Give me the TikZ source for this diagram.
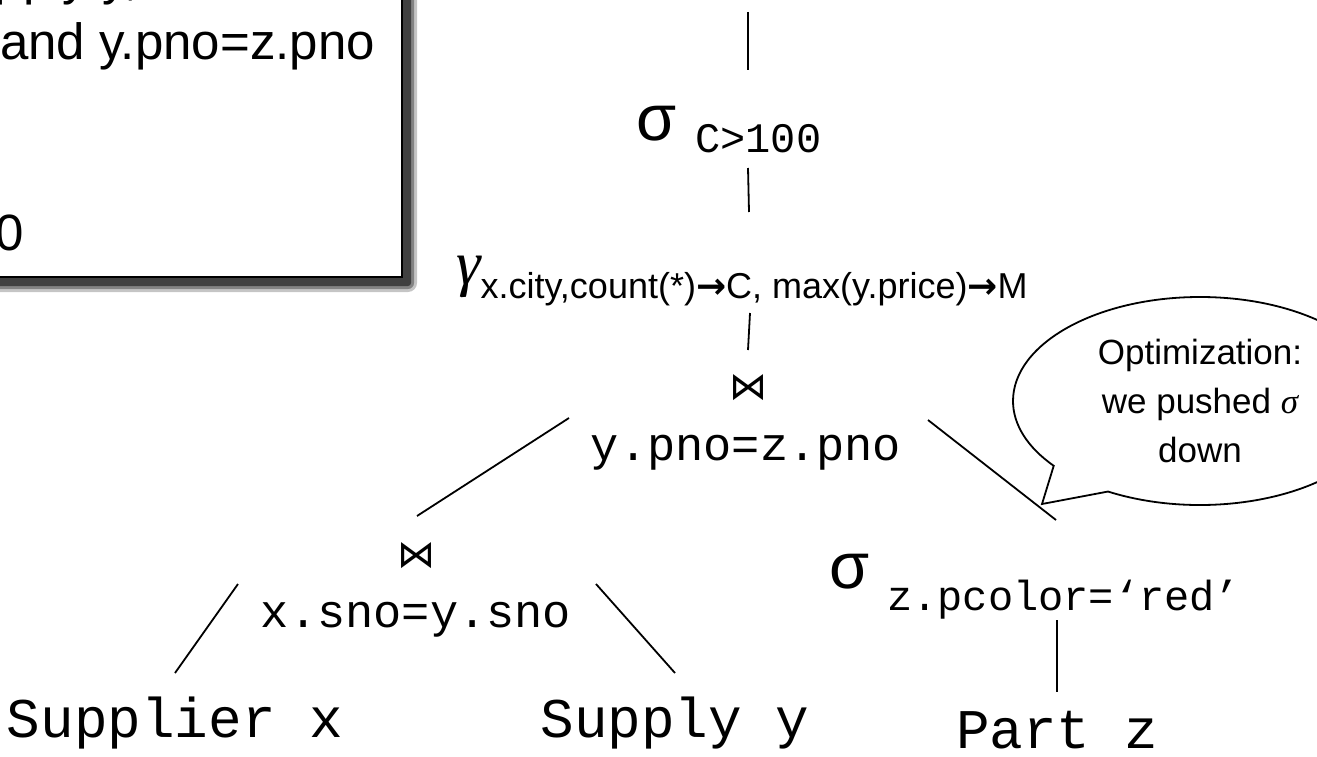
\documentclass[tikz,border=0pt]{standalone}
\usepackage{fontspec}
\setmainfont{Liberation Sans}
\newfontfamily\codefont{Liberation Mono}
\newfontfamily\greekit{Liberation Serif}
\newfontfamily\symfont{DejaVu Sans}
\usetikzlibrary{shapes.callouts}

\tikzset{
  edge/.style={line width=1.8pt},
  leaf/.style={font=\codefont\fontsize{56}{60}\selectfont, anchor=base, inner sep=0pt},
  cond/.style={font=\codefont\fontsize{47}{50}\selectfont, anchor=base, inner sep=0pt},
  bowtie/.style={font=\symfont\fontsize{38}{38}\selectfont, inner sep=0pt},
  sqltext/.style={font=\fontsize{51}{58}\selectfont, anchor=base east, inner sep=0pt},
  optext/.style={anchor=base west, inner sep=0pt},
}

\begin{document}
\begin{tikzpicture}[x=1pt,y=-1pt]
\useasboundingbox (0,0) rectangle (1317,757);
\clip (0,0) rectangle (1317,757);
% query box with its shadow
\foreach \b/\o in {9/0.3,6/0.5,3/1}{\fill[black!75,opacity=\o,rounded corners=\b pt] (-60,-60) rectangle (408+\b,283+\b);}
\draw[line width=2.4pt,fill=white] (-60,-60) rectangle (402,277);
\node[sqltext] (from) at (286,-5) {pply y, Part z};
\node[sqltext] (where) at (375,60) {and y.pno=z.pno};
\node[sqltext] (having) at (24,250) {0};
% operators
\node[optext] (selC) at (636,140) {{\fontsize{65}{65}\selectfont σ}\hspace{19pt}\raisebox{-13pt}{\codefont\fontsize{42}{42}\selectfont C>100}};
\node[optext] (grp) at (456,284) {{\greekit\itshape\fontsize{62}{62}\selectfont γ}\raisebox{-14pt}{\fontsize{36}{36}\selectfont x.city,count(*){\symfont\bfseries→}C, max(y.price){\symfont\bfseries→}M}};
\node[bowtie] (joinP) at (748,388) {⋈};
\node[cond] (condP) at (746,460) {y.pno=z.pno};
\node[bowtie] (joinS) at (416,556) {⋈};
\node[cond] (condS) at (416,627) {x.sno=y.sno};
\node[optext] (selZ) at (829,588) {{\fontsize{65}{65}\selectfont σ}\hspace{18pt}\raisebox{-22pt}{\codefont\fontsize{42}{42}\selectfont z.pcolor=‘red’}};
% relations
\node[leaf] (supX) at (175,737) {Supplier x};
\node[leaf] (supY) at (675,737) {Supply y};
\node[leaf] (partZ) at (1057,748) {Part z};
% edge ends
\coordinate (top) at (748,12); \coordinate (selCn) at (748,70);
\coordinate (selCs) at (748,168); \coordinate (grpn) at (749,212);
\coordinate (grps) at (750,313); \coordinate (joinPn) at (748,350);
\coordinate (joinPl) at (569,418); \coordinate (joinSn) at (417,516);
\coordinate (joinPr) at (928,420); \coordinate (selZn) at (1056,520);
\coordinate (joinSl) at (238,584); \coordinate (supXn) at (175,673);
\coordinate (joinSr) at (596,584); \coordinate (supYn) at (675,673);
\coordinate (selZs) at (1057,620); \coordinate (partZn) at (1057,692);
\foreach \a/\b in {top/selCn,selCs/grpn,grps/joinPn,joinPl/joinSn,joinPr/selZn,joinSl/supXn,joinSr/supYn,selZs/partZn}{\draw[edge] (\a) -- (\b);}
% note
\node[ellipse callout, draw, line width=1.8pt, fill=white, minimum width=374pt, minimum height=208pt, inner sep=0pt, align=center, font=\fontsize{35}{49}\selectfont, callout absolute pointer={(1042,504)}, callout pointer arc=22] (note) at (1200,401) {Optimization:\\we pushed {\greekit\itshape σ}\\down};
\end{tikzpicture}
\end{document}
